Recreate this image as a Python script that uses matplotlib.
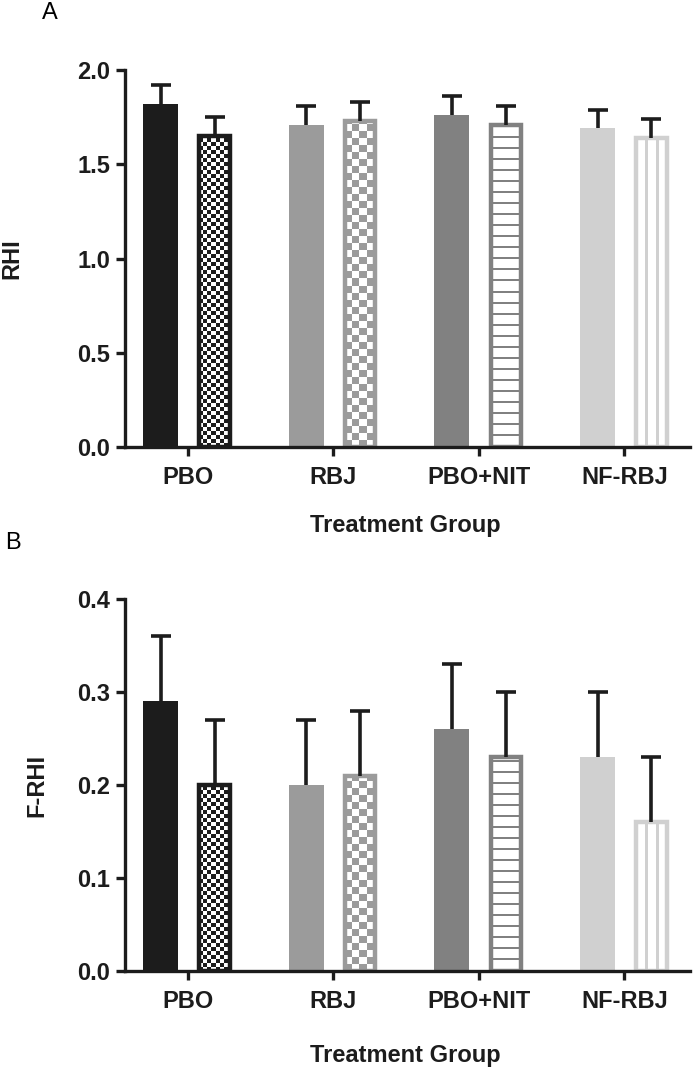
import numpy as np
import matplotlib.pyplot as plt

plt.rcParams['font.family'] = ['Liberation Sans', 'DejaVu Sans']
plt.rcParams['font.weight'] = 'bold'

# dane
grupy = ['PBO', 'RBJ', 'PBO+NIT', 'NF-RBJ']
rhi_a = [1.82, 1.71, 1.76, 1.69]
rhi_a_sd = [0.10, 0.10, 0.10, 0.10]
rhi_b = [1.65, 1.73, 1.71, 1.64]
rhi_b_sd = [0.10, 0.10, 0.10, 0.10]
frhi_a = [0.29, 0.20, 0.26, 0.23]
frhi_a_sd = [0.07, 0.07, 0.07, 0.07]
frhi_b = [0.20, 0.21, 0.23, 0.16]
frhi_b_sd = [0.07, 0.07, 0.07, 0.07]

kolory = ['#1c1c1c', '#9b9b9b', '#818181', '#d0d0d0']
wzory = ['checker_fine', 'checker', 'hlines', 'vlines']

szer = 0.24
off = 0.185
lw_ramka = 3.2  # pt
ciemny = '#1c1c1c'
fs = 17


def wypelnij(ax, bar, wzor, kolor):
    x0, y0 = bar.get_x(), bar.get_y()
    w, h = bar.get_width(), bar.get_height()
    (px0, py0), (px1, py1) = ax.transData.transform([(x0, y0), (x0 + w, y0 + h)])
    wp, hp = max(int(round(px1 - px0)), 1), max(int(round(py1 - py0)), 1)
    yy, xx = np.mgrid[0:hp, 0:wp]
    if wzor == 'checker_fine':
        maska = ((xx // 4 + yy // 4) % 2 == 0)
    elif wzor == 'checker':
        maska = ((xx // 7 + yy // 7) % 2 == 0)
    elif wzor == 'hlines':
        maska = (yy % 11) < 2
    else:
        maska = (np.abs(xx - wp / 3) < 1.2) | (np.abs(xx - 2 * wp / 3) < 1.2)
    c = np.array(plt.matplotlib.colors.to_rgb(kolor))
    img = np.ones((hp, wp, 3))
    img[maska] = c
    ax.imshow(img, extent=(x0, x0 + w, y0, y0 + h), origin='lower',
              interpolation='nearest', aspect='auto', zorder=1.5)


def slupki_bledow(ax, x, v, sd):
    _, caps, _ = ax.errorbar(x, v, yerr=[np.zeros(len(v)), sd], fmt='none', ecolor=ciemny,
                             elinewidth=2.6, capsize=7.5, capthick=2.6, zorder=3)
    caps[0].set_visible(False)  # tylko gorny wasik


def panel(ax, va, va_sd, vb, vb_sd, ymax, krok, ylab, ylab_x):
    x = np.arange(len(grupy))
    ax.set_xlim(-0.43, 3.45)
    ax.set_ylim(0, ymax)
    ax.bar(x - off, va, width=szer, color=kolory, edgecolor='none', zorder=1)
    w_lw = lw_ramka / 72 * 100 / 145.5
    bary = ax.bar(x + off, vb, width=szer - w_lw, color='none', edgecolor=kolory,
                  linewidth=lw_ramka, zorder=2)
    for b, wz, k in zip(bary, wzory, kolory):
        wypelnij(ax, b, wz, k)
    ax.set_xlim(-0.43, 3.45)
    ax.set_ylim(0, ymax)
    slupki_bledow(ax, x - off, va, va_sd)
    slupki_bledow(ax, x + off, vb, vb_sd)

    ax.spines['top'].set_visible(False)
    ax.spines['right'].set_visible(False)
    for s in ['left', 'bottom']:
        ax.spines[s].set_linewidth(2.4)
        ax.spines[s].set_color(ciemny)
    yt = np.arange(0, ymax + 1e-9, krok)
    ax.set_yticks(yt)
    ax.set_yticklabels([f'{v:.1f}' for v in yt])
    ax.set_xticks(x)
    ax.set_xticklabels(grupy)
    ax.tick_params(axis='both', width=2.4, length=6.5, color=ciemny, labelsize=fs,
                   labelcolor=ciemny)
    ax.tick_params(axis='x', pad=7)
    ax.tick_params(axis='y', pad=4)
    ax.set_ylabel(ylab, fontsize=fs, fontweight='bold', color=ciemny, va='center')
    ax.yaxis.set_label_coords(ylab_x, 0.5)
    ax.set_xlabel('Treatment Group', fontsize=fs, fontweight='bold', color=ciemny,
                  va='center')


fig = plt.figure(figsize=(7, 10.74), dpi=100)
ax1 = fig.add_axes([0.1786, 0.5838, 0.8071, 0.3510])
ax2 = fig.add_axes([0.1786, 0.0959, 0.8071, 0.3464])

panel(ax1, rhi_a, rhi_a_sd, rhi_b, rhi_b_sd, 2.0, 0.5, 'RHI', -0.20)
ax1.xaxis.set_label_coords(0.496, -0.207)
panel(ax2, frhi_a, frhi_a_sd, frhi_b, frhi_b_sd, 0.4, 0.1, 'F-RHI', -0.156)
ax2.xaxis.set_label_coords(0.496, -0.226)

fig.text(0.071, 0.988, 'A', fontsize=17, fontweight='normal', ha='center', va='center')
fig.text(0.019, 0.494, 'B', fontsize=17, fontweight='normal', ha='center', va='center')

fig.savefig('out.png', dpi=100)
